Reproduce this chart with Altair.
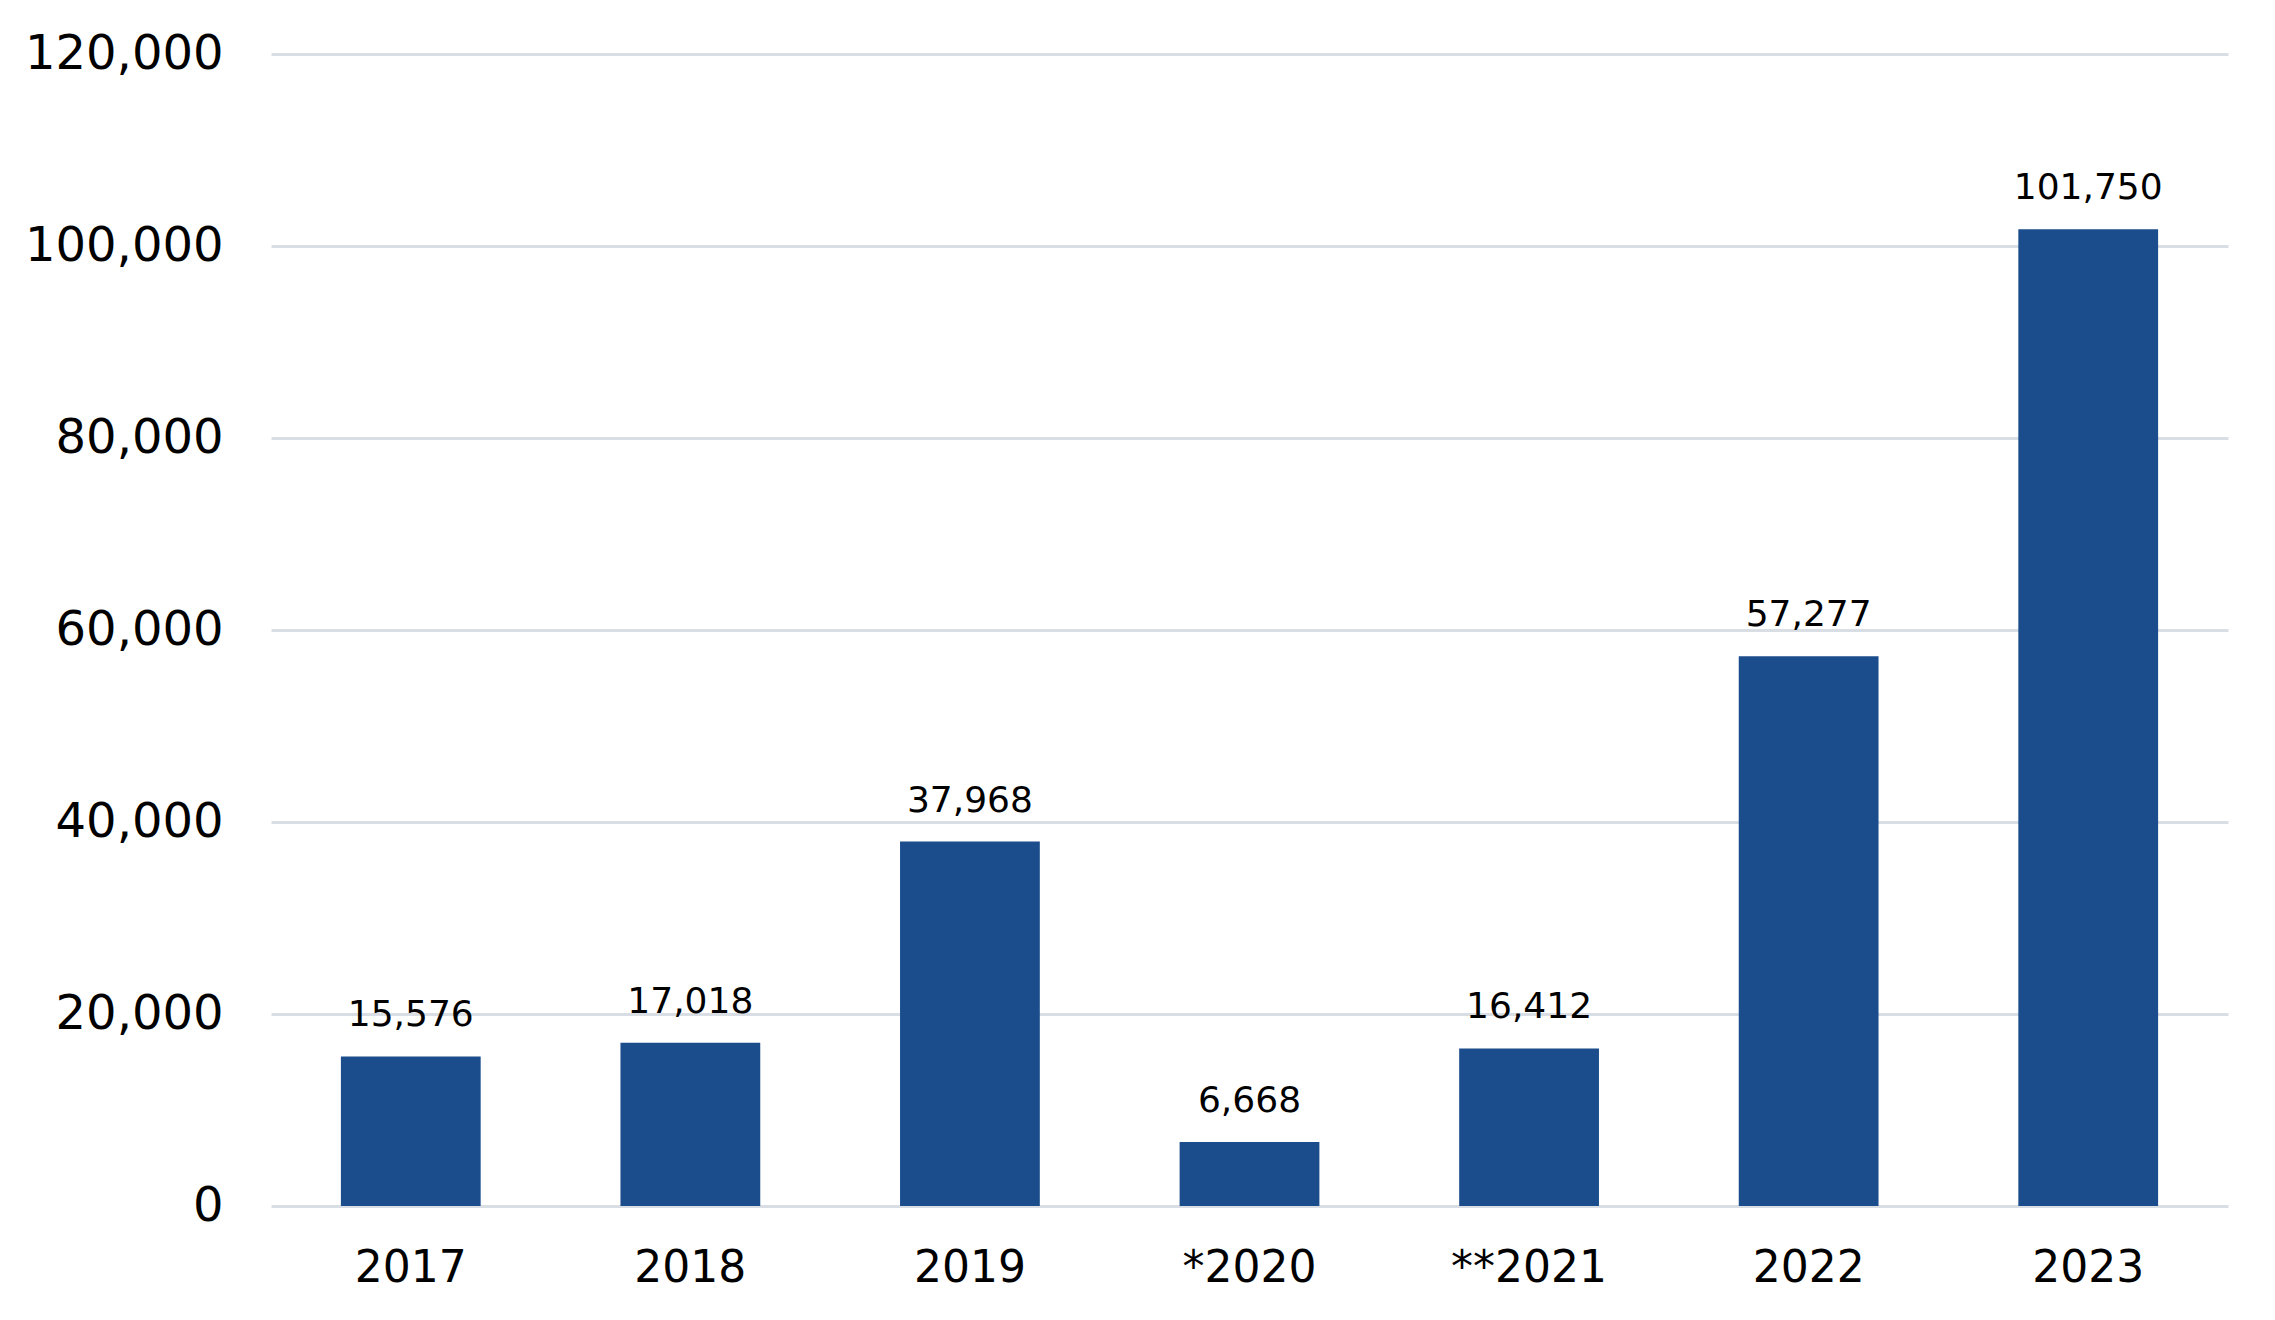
import altair as alt
import pandas as pd

years = ["2017", "2018", "2019", "*2020", "**2021", "2022", "2023"]
values = [15576, 17018, 37968, 6668, 16412, 57277, 101750]
y_ticks = [0, 20000, 40000, 60000, 80000, 100000, 120000]

df = pd.DataFrame({"year": years, "value": values})

FONT = "DejaVu Sans"
BAR = "#1b4d8c"

x = alt.X(
    "year:N",
    sort=years,
    title=None,
    scale=alt.Scale(paddingInner=0.5, paddingOuter=0.25),
    axis=alt.Axis(
        labelAngle=0,
        labelFont=FONT,
        labelFontSize=44,
        labelColor="#000000",
        labelPadding=40,
        labelLimit=500,
        ticks=False,
        domain=False,
        grid=False,
    ),
)
y = alt.Y(
    "value:Q",
    title=None,
    scale=alt.Scale(domain=[0, 120000], nice=False),
    axis=alt.Axis(
        values=y_ticks,
        format=",d",
        labelFont=FONT,
        labelFontSize=48,
        labelColor="#000000",
        labelPadding=48,
        labelLimit=500,
        ticks=False,
        domain=False,
        gridColor="#d9dee5",
        gridWidth=2.8,
    ),
)

bars = alt.Chart(df).mark_bar(color=BAR).encode(x=x, y=y)
labels = alt.Chart(df).mark_text(
    font=FONT, fontSize=36, color="#000000", baseline="alphabetic", dy=-30
).encode(x=x, y=y, text=alt.Text("value:Q", format=",d"))

chart = (
    alt.layer(bars, labels)
    .properties(
        width=1957,
        height=1152,
        background="white",
        padding={"left": 16, "top": 22, "right": 10, "bottom": 10},
    )
    .configure_view(strokeWidth=0)
)

chart.save("out.html", embed_options={"renderer": "svg", "actions": False})
